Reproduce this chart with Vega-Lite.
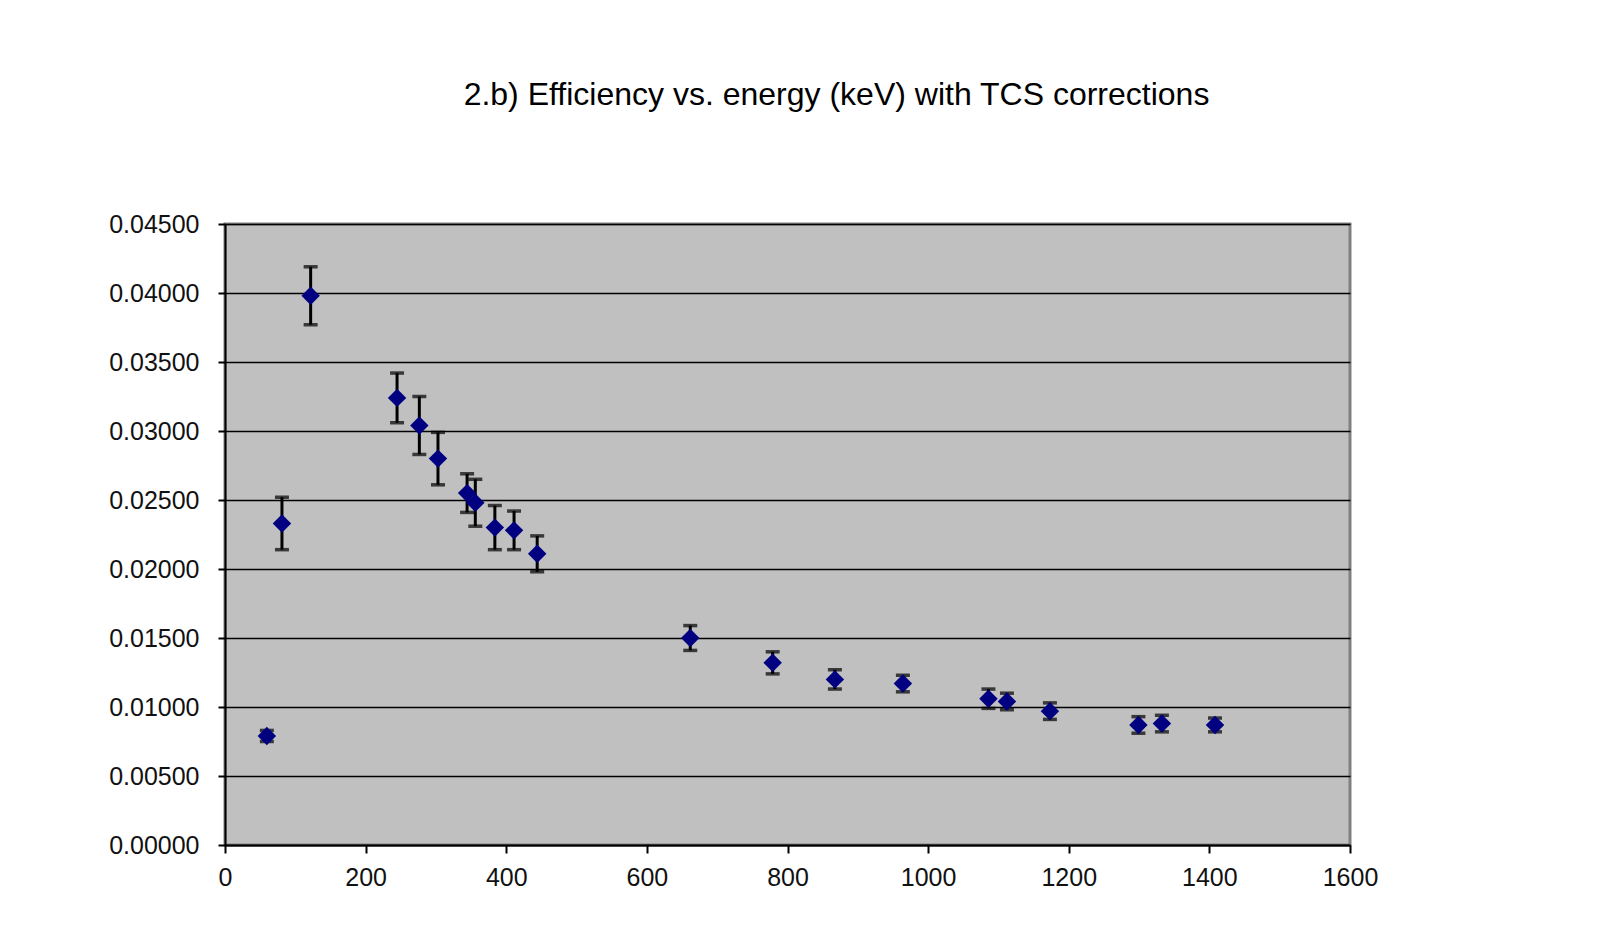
{
  "$schema": "https://vega.github.io/schema/vega-lite/v6.json",
  "width": 1125,
  "height": 621,
  "autosize": {"type": "none"},
  "padding": {"left": 225, "top": 224, "right": 268, "bottom": 92},
  "background": "white",
  "title": {
    "text": "2.b) Efficiency vs. energy (keV) with TCS corrections",
    "font": "Liberation Sans",
    "fontSize": 32,
    "fontWeight": "normal",
    "color": "black",
    "anchor": "middle",
    "frame": "group",
    "dx": 49,
    "offset": 75,
    "baseline": "alphabetic"
  },
  "config": {
    "view": {"fill": "#C0C0C0", "stroke": "#808080", "strokeWidth": 3},
    "axis": {
      "labelFont": "Liberation Sans",
      "labelFontSize": 25,
      "labelColor": "#111111",
      "domainColor": "black",
      "domainWidth": 2,
      "tickColor": "black",
      "tickWidth": 2
    }
  },
  "data": {
    "values": [
      {"energy": 59.5, "eff": 0.0079, "err": 0.0004},
      {"energy": 81.0, "eff": 0.0233, "err": 0.0019},
      {"energy": 121.8, "eff": 0.0398, "err": 0.0021},
      {"energy": 244.7, "eff": 0.0324, "err": 0.0018},
      {"energy": 276.4, "eff": 0.0304, "err": 0.0021},
      {"energy": 302.9, "eff": 0.0280, "err": 0.0019},
      {"energy": 344.3, "eff": 0.0255, "err": 0.0014},
      {"energy": 356.0, "eff": 0.0248, "err": 0.0017},
      {"energy": 383.8, "eff": 0.0230, "err": 0.0016},
      {"energy": 411.1, "eff": 0.0228, "err": 0.0014},
      {"energy": 444.0, "eff": 0.0211, "err": 0.0013},
      {"energy": 661.7, "eff": 0.0150, "err": 0.0009},
      {"energy": 778.9, "eff": 0.0132, "err": 0.0008},
      {"energy": 867.4, "eff": 0.0120, "err": 0.0007},
      {"energy": 964.1, "eff": 0.0117, "err": 0.0006},
      {"energy": 1085.8, "eff": 0.0106, "err": 0.0007},
      {"energy": 1112.1, "eff": 0.0104, "err": 0.0006},
      {"energy": 1173.2, "eff": 0.0097, "err": 0.0006},
      {"energy": 1299.1, "eff": 0.0087, "err": 0.0006},
      {"energy": 1332.5, "eff": 0.0088, "err": 0.0006},
      {"energy": 1408.0, "eff": 0.0087, "err": 0.0005}
    ]
  },
  "encoding": {
    "x": {
      "field": "energy",
      "type": "quantitative",
      "scale": {"domain": [0, 1600], "nice": false, "zero": true},
      "axis": {
        "title": null,
        "values": [0, 200, 400, 600, 800, 1000, 1200, 1400, 1600],
        "format": "d",
        "grid": false,
        "tickSize": 8,
        "labelPadding": 12,
        "labelFlush": false,
        "labelOverlap": false
      }
    }
  },
  "layer": [
    {
      "mark": {"type": "errorbar", "ticks": {"thickness": 3.5, "color": "black"}, "size": 14, "thickness": 3, "color": "black"},
      "encoding": {
        "y": {
          "field": "eff",
          "type": "quantitative",
          "scale": {"domain": [0, 0.045], "nice": false},
          "axis": {
            "title": null,
            "values": [0, 0.005, 0.01, 0.015, 0.02, 0.025, 0.03, 0.035, 0.04, 0.045],
            "format": ".5f",
            "grid": true,
            "gridColor": "black",
            "gridWidth": 1.5,
            "gridOpacity": 1,
            "tickSize": 7,
            "labelPadding": 19,
            "labelFlush": false,
            "labelOverlap": false
          }
        },
        "yError": {"field": "err"}
      }
    },
    {
      "mark": {"type": "point", "shape": "diamond", "filled": true, "size": 340, "color": "#000080", "opacity": 1},
      "encoding": {
        "y": {"field": "eff", "type": "quantitative", "title": null}
      }
    }
  ]
}
